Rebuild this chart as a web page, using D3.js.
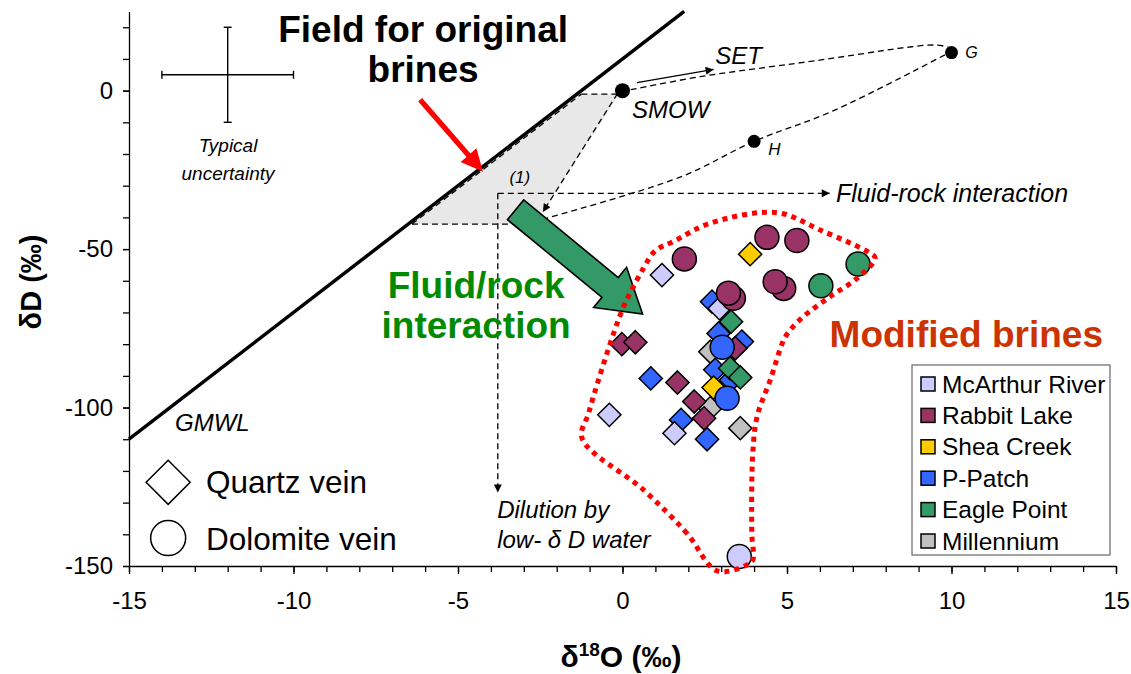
<!DOCTYPE html>
<html><head><meta charset="utf-8">
<script src="https://cdn.jsdelivr.net/npm/d3@7"></script>
<style>
body{margin:0;background:#fff;}
svg{font-family:Arial,"Liberation Sans",sans-serif;}
</style></head><body>
<svg id="chart" width="1131" height="674"></svg>
<script>
// ---------- data ----------
const sites = ["McArthur River","Rabbit Lake","Shea Creek","P-Patch","Eagle Point","Millennium"];
const siteColors = ["#ccccff","#993366","#ffcc00","#3366ff","#339966","#c0c0c0"];
const xTicks = [-15,-10,-5,0,5,10,15];
const yTicks = [-150,-100,-50,0];

// [δ18O, δD]  quartz veins (diamonds)
const mcArthurQuartz = [[1.20,-58.2],[2.95,-68.7],[-0.40,-102.3],[1.58,-108.1]];
const rabbitQuartz = [[-0.02,-80.0],[0.39,-79.4],[3.43,-81.3],[1.67,-92.1],[2.18,-98.1],[2.48,-103.4]];
const sheaQuartz = [[3.88,-51.6],[2.77,-93.7]];
const pPatchQuartz = [[2.72,-66.6],[2.92,-76.6],[3.63,-79.2],[0.86,-90.8],[2.82,-88.1],[3.30,-91.3],[1.78,-103.9],[2.57,-110.0]];
const eagleQuartz = [[3.30,-72.9],[3.27,-87.6],[3.58,-90.5]];
const millenniumQuartz = [[2.67,-82.4],[2.67,-100.2],[3.58,-106.5]];
// dolomite veins (circles)
const mcArthurDolomite = [[3.55,-147.0]];
const rabbitDolomite = [[1.88,-53.1],[4.39,-46.3],[5.30,-47.3],[4.90,-62.4],[4.64,-60.3],[3.37,-65.5],[3.22,-63.9]];
const pPatchDolomite = [[3.03,-81.0],[3.18,-97.1]];
const eagleDolomite = [[6.03,-61.6],[7.16,-54.7]];

// reference waters
const refPoints = [["SMOW",0,0],["G",10,12],["H",4,-16]];
// annotation geometry (data units)
const originalField = [[-6.45,-42.1],[-1.3,-1.1],[-0.1,-1.1],[-2.42,-38.3],[-3.4,-42.1]];
const modifiedField = [[2.87,-151.5],[1.96,-139.7],[0.64,-126.0],[-1.23,-109.7],[-1.03,-101.8],[-0.73,-91.3],[-0.27,-76.6],[0.03,-68.2],[0.23,-63.9],[0.64,-56.0],[1.0,-50.5],[1.55,-47.6],[2.67,-41.8],[4.69,-38.5],[6.01,-44.0],[7.53,-51.3],[7.68,-52.9],[7.13,-59.2],[6.31,-65.0],[5.5,-71.3],[5.1,-75.5],[4.9,-78.7],[4.49,-91.3],[4.09,-102.9],[3.96,-114.4],[3.93,-139.7],[3.96,-148.1],[3.78,-149.7]];
const upperCurve = [[0.25,0.3],[2.36,4.4],[4.4,7.4],[5.91,9.5],[7.4,11.8],[8.44,13.4],[9.46,14.4],[9.9,13.8]];
const lowerCurve = [[9.8,11.3],[6.4,-6.4],[4,-16],[1.75,-27.3],[-2.3,-40.2]];

// ---------- scales ----------
const svg = d3.select("#chart");
const x = d3.scaleLinear().domain([-15,15]).range([129,1116]);
const y = d3.scaleLinear().domain([-150,25]).range([566,11.4]);

const defs = svg.append("defs");
defs.append("marker").attr("id","ah").attr("viewBox","0 0 10 10")
  .attr("refX",10).attr("refY",5).attr("markerWidth",10).attr("markerHeight",8)
  .attr("markerUnits","userSpaceOnUse").attr("orient","auto")
  .append("path").attr("d","M0,0L10,5L0,10Z").attr("fill","#000");

// ---------- axes ----------
const fmt = d => String(d);
const xMinor = d3.range(-15,16,1);
const yMinor = d3.range(-150,21,10);
svg.append("g").attr("transform","translate(0,566)")
  .call(d3.axisBottom(x).tickValues(xMinor).tickSize(6).tickSizeOuter(0).tickFormat(""))
  .call(g=>g.selectAll("line,path").attr("stroke","#000").attr("stroke-width",1.3));
svg.append("g").attr("transform","translate(0,566)")
  .call(d3.axisBottom(x).tickValues(xTicks).tickSize(8).tickSizeOuter(0).tickPadding(18).tickFormat(fmt))
  .call(g=>g.select(".domain").remove())
  .call(g=>g.selectAll("line").attr("stroke","#000").attr("stroke-width",1.3))
  .call(g=>g.selectAll("text").attr("font-size",24).attr("fill","#000").attr("font-family","Arial"));
svg.append("g").attr("transform","translate(129,0)")
  .call(d3.axisLeft(y).tickValues(yMinor).tickSize(6).tickSizeOuter(0).tickFormat(""))
  .call(g=>g.selectAll("line,path").attr("stroke","#000").attr("stroke-width",1.3));
svg.append("g").attr("transform","translate(129,0)")
  .call(d3.axisLeft(y).tickValues(yTicks).tickSize(6).tickSizeOuter(0).tickPadding(10).tickFormat(fmt))
  .call(g=>g.select(".domain").remove())
  .call(g=>g.selectAll("line").attr("stroke","#000").attr("stroke-width",1.3))
  .call(g=>g.selectAll("text").attr("font-size",24).attr("fill","#000").attr("font-family","Arial"));

// axis titles
svg.append("text").attr("transform","translate(41,282) rotate(-90)").attr("text-anchor","middle")
  .attr("font-size",29).attr("font-weight","bold").text("δD (‰)");
const xt = svg.append("text").attr("x",621).attr("y",667).attr("text-anchor","middle")
  .attr("font-size",30).attr("font-weight","bold");
xt.append("tspan").text("δ");
xt.append("tspan").attr("font-size",19).attr("dy",-11).text("18");
xt.append("tspan").attr("dy",11).text("O (‰)");

// ---------- original brine field ----------
const line = d3.line().x(d=>x(d[0])).y(d=>y(d[1]));
svg.append("path").attr("d",line(originalField)+"Z").attr("fill","#e8e8e8").attr("stroke","none");
const dash = {"stroke":"#000","stroke-width":1.3,"stroke-dasharray":"6,4","fill":"none"};
function dashed(pts, curve, arrow){
  const p = svg.append("path").attr("d",d3.line().x(d=>x(d[0])).y(d=>y(d[1])).curve(curve||d3.curveLinear)(pts));
  for(const k in dash) p.attr(k,dash[k]);
  if(arrow) p.attr("marker-end","url(#ah)");
  return p;
}
dashed([[-6.4,-42.1],[-1.25,-1.1]]);
dashed([[-1.25,-1.1],[-0.2,-1.1]]);
dashed([[-6.4,-42.1],[-3.2,-42.1]]);
dashed([[-0.15,-0.9],[-2.42,-38.3]],null,true);
dashed(upperCurve,d3.curveCatmullRom.alpha(0.5));
dashed(lowerCurve,d3.curveCatmullRom.alpha(0.5));
dashed([[-3.79,-32.4],[6.3,-32.4]],null,true);
dashed([[-3.79,-32.4],[-3.79,-126.8]],null,true);

// GMWL  δD = 8 δ18O + 10
const gmwl = [-15,(25-10)/8].map(v=>[v,8*v+10]);
svg.append("path").attr("d",line(gmwl)).attr("stroke","#000").attr("stroke-width",3.5).attr("fill","none");

// SET arrow
svg.append("path").attr("d",line([[0.44,2.5],[2.77,6.7]])).attr("stroke","#000").attr("stroke-width",1.3)
  .attr("fill","none").attr("marker-end","url(#ah)");

// reference points
svg.selectAll("circle.ref").data(refPoints).join("circle").attr("class","ref")
  .attr("cx",d=>x(d[1])).attr("cy",d=>y(d[2])).attr("r",(d,i)=>i===0?7.5:6.5).attr("fill","#000");

// ---------- green block arrow ----------
function blockArrow(tail, tip, shaftHW, headHW, headLen){
  const x0=x(tail[0]), y0=y(tail[1]), x1=x(tip[0]), y1=y(tip[1]);
  const L=Math.hypot(x1-x0,y1-y0), ux=(x1-x0)/L, uy=(y1-y0)/L, nx=-uy, ny=ux;
  const b=L-headLen;
  const P=(a,n)=>[x0+ux*a+nx*n, y0+uy*a+ny*n];
  return [P(0,-shaftHW),P(b,-shaftHW),P(b,-headHW),P(L,0),P(b,headHW),P(b,shaftHW),P(0,shaftHW)];
}
svg.append("path").attr("d","M"+blockArrow([-3.25,-37.6],[0.61,-70.5],12.8,26,42).join("L")+"Z")
  .attr("fill","#339966").attr("stroke","#000").attr("stroke-width",1.6);

// red arrow
(function(){
  const pts = blockArrow([-6.15,-2.9],[-4.24,-25.6],2.6,10.5,22);
  svg.append("path").attr("d","M"+pts.join("L")+"Z").attr("fill","#ff0000");
})();

// ---------- data points ----------
function drawQuartz(data, color){
  svg.append("g").selectAll("path").data(data).join("path")
    .attr("d", "M0,-11.6L11.6,0L0,11.6L-11.6,0Z")
    .attr("transform",d=>`translate(${x(d[0])},${y(d[1])})`)
    .attr("fill",color).attr("stroke","#000").attr("stroke-width",1.5);
}
function drawDolomite(data, color){
  svg.append("g").selectAll("circle").data(data).join("circle")
    .attr("cx",d=>x(d[0])).attr("cy",d=>y(d[1])).attr("r",12)
    .attr("fill",color).attr("stroke","#000").attr("stroke-width",1.5);
}
drawQuartz(millenniumQuartz, siteColors[5]);
drawQuartz(pPatchQuartz, siteColors[3]);
drawQuartz(mcArthurQuartz, siteColors[0]);
drawQuartz(rabbitQuartz, siteColors[1]);
drawQuartz(eagleQuartz, siteColors[4]);
drawQuartz(sheaQuartz, siteColors[2]);
drawDolomite(rabbitDolomite, siteColors[1]);
drawDolomite(eagleDolomite, siteColors[4]);
drawDolomite(pPatchDolomite, siteColors[3]);
drawDolomite(mcArthurDolomite, siteColors[0]);

// modified brine field (red dotted)
svg.append("path").attr("d",d3.line().x(d=>x(d[0])).y(d=>y(d[1])).curve(d3.curveCatmullRomClosed.alpha(0.5))(modifiedField))
  .attr("fill","none").attr("stroke","#ff0000").attr("stroke-width",5).attr("stroke-dasharray","5,5");

// ---------- typical uncertainty ----------
const unc = {cx:-12, cy:5, dx:2, dy:15};
const ug = svg.append("g").attr("stroke","#000").attr("stroke-width",1.4);
ug.append("line").attr("x1",x(unc.cx-unc.dx)).attr("x2",x(unc.cx+unc.dx)).attr("y1",y(unc.cy)).attr("y2",y(unc.cy));
ug.append("line").attr("x1",x(unc.cx)).attr("x2",x(unc.cx)).attr("y1",y(unc.cy-unc.dy)).attr("y2",y(unc.cy+unc.dy));
[unc.cx-unc.dx,unc.cx+unc.dx].forEach(v=>ug.append("line").attr("x1",x(v)).attr("x2",x(v)).attr("y1",y(unc.cy)-4).attr("y2",y(unc.cy)+4));
[unc.cy-unc.dy,unc.cy+unc.dy].forEach(v=>ug.append("line").attr("x1",x(unc.cx)-4).attr("x2",x(unc.cx)+4).attr("y1",y(v)).attr("y2",y(v)));

// ---------- text annotations ----------
function txt(xv,yv,s,size,opts){
  opts=opts||{};
  return svg.append("text").attr("x",x(xv)).attr("y",y(yv)).attr("font-size",size)
    .attr("font-style",opts.italic?"italic":"normal").attr("font-weight",opts.bold?"bold":"normal")
    .attr("text-anchor",opts.anchor||"start").attr("fill",opts.color||"#000").text(s);
}
txt(-11.99,-19.3,"Typical",19,{italic:1,anchor:"middle"});
txt(-11.99,-28.2,"uncertainty",19,{italic:1,anchor:"middle"});
txt(-6.06,15.5,"Field for original",37,{bold:1,anchor:"middle"});
txt(-6.06,2.8,"brines",37,{bold:1,anchor:"middle"});
txt(-4.45,-65.5,"Fluid/rock",37,{bold:1,anchor:"middle",color:"#008a00"});
txt(-4.45,-78.1,"interaction",37,{bold:1,anchor:"middle",color:"#008a00"});
txt(10.45,-80.9,"Modified brines",37,{bold:1,anchor:"middle",color:"#cc3300"});
txt(0.29,-8.7,"SMOW",24,{italic:1});
txt(2.82,8.3,"SET",24,{italic:1});
txt(10.42,10.3,"G",16,{italic:1});
txt(4.43,-20.3,"H",17,{italic:1});
txt(6.49,-35,"Fluid-rock interaction",25,{italic:1});
txt(-3.12,-29.2,"(1)",17,{italic:1,anchor:"middle"});
txt(-3.81,-134.9,"Dilution by",24,{italic:1});
txt(-3.81,-144.4,"low- δ D water",24,{italic:1});
txt(-13.6,-107.5,"GMWL",24,{italic:1});

// vein-type key
svg.append("path").attr("d","M0,-22L22,0L0,22L-22,0Z").attr("transform",`translate(${x(-13.81)},${y(-123.6)})`)
  .attr("fill","#fff").attr("stroke","#000").attr("stroke-width",1.5);
svg.append("circle").attr("cx",x(-13.81)).attr("cy",y(-141.2)).attr("r",17.5)
  .attr("fill","#fff").attr("stroke","#000").attr("stroke-width",1.5);
txt(-12.66,-126.9,"Quartz vein",31.5);
txt(-12.66,-144.9,"Dolomite vein",31.5);

// ---------- legend ----------
const lg = svg.append("g").attr("transform","translate(912,365)");
lg.append("rect").attr("width",198).attr("height",190).attr("fill","#fff").attr("stroke","#666").attr("stroke-width",1.2);
sites.forEach((s,i)=>{
  const cy = 19 + i*31.4;
  lg.append("rect").attr("x",9).attr("y",cy-7).attr("width",14).attr("height",14)
    .attr("fill",siteColors[i]).attr("stroke","#000").attr("stroke-width",1.5);
  lg.append("text").attr("x",30).attr("y",cy+8.5).attr("font-size",24.5).text(s);
});
</script>
</body></html>
